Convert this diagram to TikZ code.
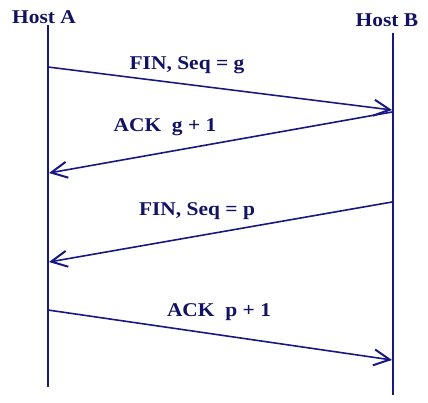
\documentclass[tikz,border=0pt]{standalone}
\usepackage{fontspec}
\setmainfont{Liberation Serif}
\usetikzlibrary{arrows.meta}
\definecolor{navy}{RGB}{24,24,130}
\definecolor{navytext}{RGB}{18,18,100}
\begin{document}
\begin{tikzpicture}[x=1pt,y=-1pt,
  life/.style={draw=navy,line width=2pt},
  msg/.style={draw=navy,line width=1.6pt,-{Straight Barb[length=16pt,width=16pt,line width=2pt]}},
  lbl/.style={text=navytext,font=\bfseries\fontsize{19.5}{22}\selectfont,xscale=1.1,inner sep=0pt},
]
\useasboundingbox (0,0) rectangle (428,402);
\node[lbl] (hA) at (44,17) {Host A};
\node[lbl] (hB) at (387,20) {Host B};
\coordinate (a0) at (48,25);
\coordinate (a1) at (48,387);
\coordinate (b0) at (393,33);
\coordinate (b1) at (393,395);
\draw[life] (a0) -- (a1);
\draw[life] (b0) -- (b1);
\coordinate (m1s) at (48,67);
\coordinate (m1e) at (392,110);
\coordinate (m2s) at (392,112);
\coordinate (m2e) at (49,173);
\coordinate (m3s) at (392,202);
\coordinate (m3e) at (49,262);
\coordinate (m4s) at (48,310);
\coordinate (m4e) at (392,360);
\draw[msg] (m1s) -- (m1e);
\draw[msg] (m2s) -- (m2e);
\draw[msg] (m3s) -- (m3e);
\draw[msg] (m4s) -- (m4e);
\node[lbl] (l1) at (187,65) {FIN, Seq = g};
\node[lbl] (l2) at (165,127) {ACK\ \ g + 1};
\node[lbl] (l3) at (197,211) {FIN, Seq = p};
\node[lbl] (l4) at (219,312) {ACK\ \ p + 1};
\end{tikzpicture}
\end{document}
